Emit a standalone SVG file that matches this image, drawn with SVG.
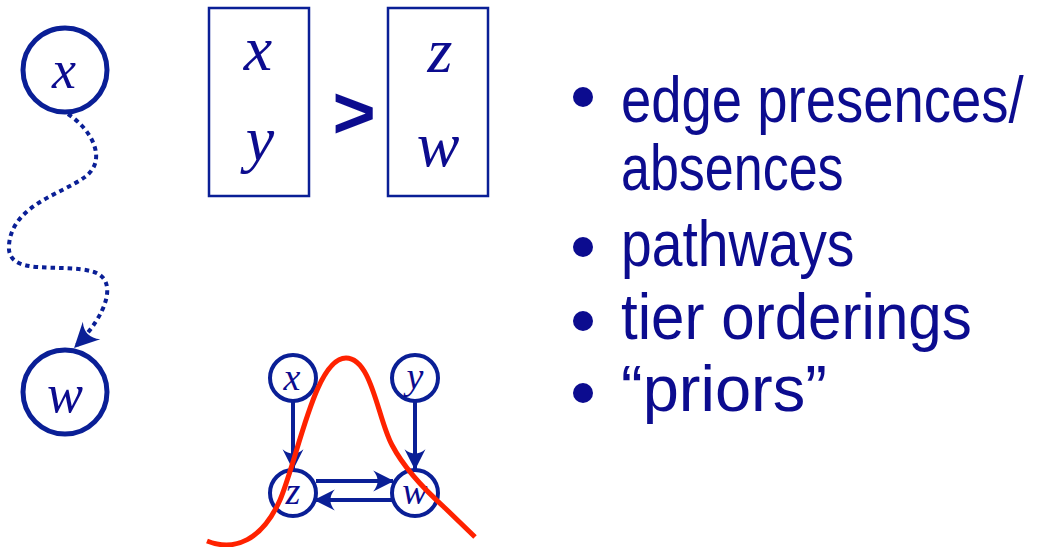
<svg xmlns="http://www.w3.org/2000/svg" width="1042" height="547" viewBox="0 0 1042 547">
<style>
.node{fill:#fff;stroke:#0a1f96}
.math{font-family:"Liberation Serif",serif;font-style:italic;fill:#0c0c8f;text-anchor:middle}
.bul{font-family:"Liberation Sans",sans-serif;font-size:65px;fill:#0c0c8f}
.dot{fill:#0c0c8f}
.edge{fill:none;stroke:#0a1f96;stroke-width:4}
</style>
<defs>
<marker id="ah" markerWidth="22" markerHeight="22" viewBox="0 0 20 20" refX="18" refY="10" orient="auto" markerUnits="userSpaceOnUse">
<path d="M0,0.5 Q8,10 0,19.5 L19,10 Z" fill="#0a1f96"/>
</marker>
<marker id="ah2" markerWidth="26" markerHeight="26" viewBox="0 0 20 20" refX="18" refY="10" orient="auto" markerUnits="userSpaceOnUse">
<path d="M0,0.5 Q8,10 0,19.5 L19,10 Z" fill="#0a1f96"/>
</marker>
</defs>

<g id="node-x-left"><circle class="node" cx="65" cy="70" r="42" stroke-width="5"/><text class="math" x="64" y="88" font-size="54">x</text></g>
<g id="node-w-left"><circle class="node" cx="65" cy="392" r="42" stroke-width="5"/><text class="math" x="65" y="412" font-size="54">w</text></g>

<g id="box-xy"><rect x="209" y="8" width="100" height="188" fill="none" stroke="#0a1f96" stroke-width="2.5"/><text class="math" x="258" y="70" font-size="64">x</text><text class="math" x="260" y="160" font-size="64">y</text></g>
<g id="gt"><text x="354" y="138" font-family="Liberation Sans,sans-serif" font-weight="bold" font-size="74" fill="#0c0c8f" text-anchor="middle">&gt;</text></g>
<g id="box-zw"><rect x="388" y="8" width="100" height="188" fill="none" stroke="#0a1f96" stroke-width="2.5"/><text class="math" x="440" y="72" font-size="64">z</text><text class="math" x="438" y="166" font-size="64">w</text></g>

<g id="node-x"><circle class="node" cx="293" cy="378" r="23" stroke-width="4"/><text class="math" x="292" y="390" font-size="38">x</text></g>
<g id="node-y"><circle class="node" cx="415" cy="378" r="23" stroke-width="4"/><text class="math" x="415" y="389" font-size="38">y</text></g>
<g id="node-z"><circle class="node" cx="293" cy="493" r="23" stroke-width="4"/><text class="math" x="293" y="504" font-size="38">z</text></g>
<g id="node-w"><circle class="node" cx="415" cy="493" r="23" stroke-width="4"/><text class="math" x="415" y="504" font-size="38">w</text></g>

<g id="connectors">
<path class="edge" d="M68,114 C92,130 108,160 85,177 C62,194 12,205 9,245 C6,278 62,262 94,272 C118,280 108,314 75,347" stroke-width="4.5" stroke-dasharray="4.5 4" marker-end="url(#ah2)"/>
<line class="edge" x1="293" y1="402" x2="293" y2="469" marker-end="url(#ah)"/>
<line class="edge" x1="415" y1="402" x2="415" y2="469" marker-end="url(#ah)"/>
<line class="edge" x1="316" y1="481" x2="393" y2="481" marker-end="url(#ah)"/>
<line class="edge" x1="392" y1="500" x2="315" y2="500" marker-end="url(#ah)"/>
</g>

<path id="prior-curve" d="M207,541 C235,552 262,540 280,500 C298,458 315,358 346,358 C372,358 378,420 392,445 C405,470 425,490 445,508 L475,537" fill="none" stroke="#ff2200" stroke-width="5"/>

<g id="bullets">
<circle class="dot" cx="583" cy="97" r="10"/>
<text class="bul" transform="translate(621,122) scale(0.838,1)">edge presences/</text>
<text class="bul" transform="translate(621,190) scale(0.80,1)">absences</text>
<circle class="dot" cx="583" cy="247" r="10"/>
<text class="bul" transform="translate(621,266) scale(0.85,1)">pathways</text>
<circle class="dot" cx="583" cy="321" r="10"/>
<text class="bul" transform="translate(621,339) scale(0.925,1)">tier orderings</text>
<circle class="dot" cx="583" cy="393" r="10"/>
<text class="bul" transform="translate(621,411)">“priors”</text>
</g>
</svg>
